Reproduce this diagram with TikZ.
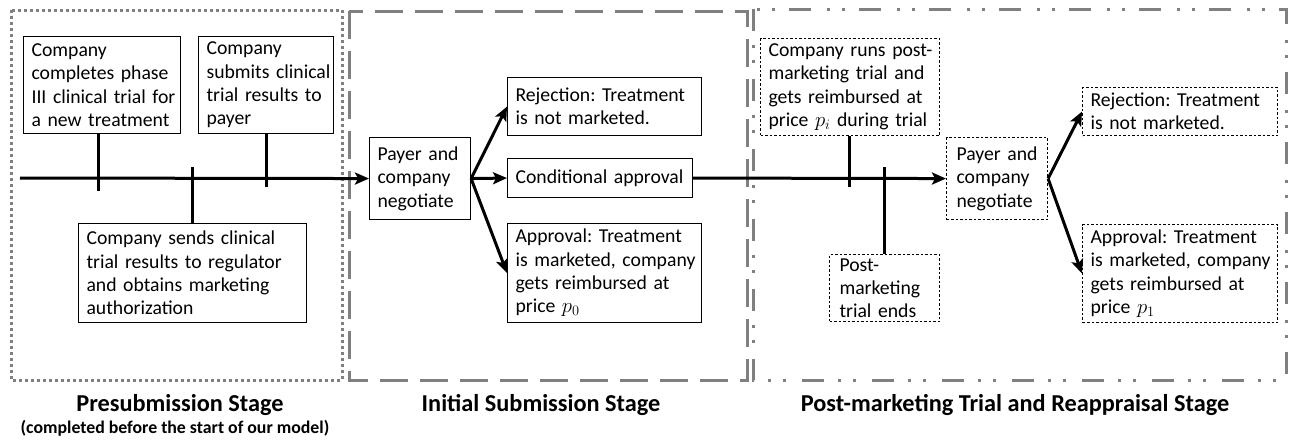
\documentclass[tikz,border=0pt]{standalone}
\usepackage{fontspec}
\setmainfont{Carlito}
\usetikzlibrary{arrows.meta}
\definecolor{bordgray}{RGB}{128,128,128}
\newcommand{\bodyfnt}{\fontsize{19.7}{23.3}\selectfont\frenchspacing}
\newcommand{\titlefnt}{\fontsize{24.3}{28}\selectfont\bfseries}
\newcommand{\subfnt}{\fontsize{17.8}{21}\selectfont\bfseries}
\newcommand{\nb}[1]{\mbox{#1}}
\begin{document}
\begin{tikzpicture}[x=1pt,y=-1pt,
  box/.style={draw, line width=1.1pt, anchor=north west, inner xsep=8pt, inner ysep=0pt, align=left, font=\bodyfnt},
  dbox/.style={box, dash pattern=on 2.5pt off 2pt},
  tl/.style={line width=3pt},
  arr/.style={line width=3pt, -{Stealth[length=14pt,width=12pt,inset=3pt]}},
  frame/.style={draw=bordgray, line width=3pt},
  stagelbl/.style={anchor=base, font=\titlefnt, inner sep=0pt}
]
\useasboundingbox (0,0) rectangle (1289,445);

% stage frames
\draw[frame, dash pattern=on 3pt off 3pt] (11,10) rectangle (342,380);
\draw[frame, dash pattern=on 28pt off 12pt] (349,11) rectangle (747,380);
\draw[frame, dash pattern=on 22pt off 14pt on 3pt off 12pt on 3pt off 16pt] (753,9) rectangle (1286,380);

% boxes
\node[box, minimum width=157pt, minimum height=97pt, text width=141pt] (b1) at (23,36)
  {\nb{Company}\\\nb{completes phase}\\\nb{III clinical trial for}\\\nb{a new treatment}};
\node[box, minimum width=135pt, minimum height=97pt, text width=119pt] (b2) at (198,36)
  {\nb{Company}\\\nb{submits clinical}\\\nb{trial results to}\\\nb{payer}};
\node[box, minimum width=228pt, minimum height=99pt, text width=212pt] (b3) at (78,223)
  {\nb{Company sends clinical}\\\nb{trial results to regulator}\\\nb{and obtains marketing}\\\nb{authorization}};
\node[box, minimum width=101pt, minimum height=82pt, text width=85pt] (pay1) at (369,137)
  {\nb{Payer and}\\\nb{company}\\\nb{negotiate}};
\node[box, minimum width=194pt, minimum height=58pt, text width=178pt] (rej1) at (507,77)
  {\nb{Rejection: Treatment}\\\nb{is not marketed.}};
\node[box, minimum width=185pt, minimum height=39pt, text width=169pt] (cond) at (507,158)
  {\nb{Conditional approval}};
\node[box, minimum width=194pt, minimum height=99pt, text width=178pt] (app1) at (507,223)
  {\nb{Approval: Treatment}\\\nb{is marketed, company}\\\nb{gets reimbursed at}\\\nb{price $p_0$}};
\node[dbox, minimum width=179pt, minimum height=97pt, text width=163pt] (run) at (760,38)
  {\nb{Company runs post-}\\\nb{marketing trial and}\\\nb{gets reimbursed at}\\\nb{price $p_i$ during trial}};
\node[dbox, inner xsep=10pt, minimum width=110pt, minimum height=67pt, text width=90pt] (end) at (829,254)
  {\nb{Post-}\\\nb{marketing}\\\nb{trial ends}};
\node[dbox, inner xsep=10pt, minimum width=101pt, minimum height=82pt, text width=81pt] (pay2) at (946,137)
  {\nb{Payer and}\\\nb{company}\\\nb{negotiate}};
\node[dbox, minimum width=195pt, minimum height=48pt, text width=179pt] (rej2) at (1082,87)
  {\nb{Rejection: Treatment}\\\nb{is not marketed.}};
\node[dbox, minimum width=195pt, minimum height=98pt, text width=179pt] (app2) at (1082,224)
  {\nb{Approval: Treatment}\\\nb{is marketed, company}\\\nb{gets reimbursed at}\\\nb{price $p_1$}};

% timeline
\coordinate (t0) at (20,178);
\draw[arr] (t0) -- (pay1.west);
\coordinate (k1) at (98,191);
\coordinate (k2) at (192,167);
\coordinate (k3) at (266,187);
\coordinate (k4) at (849,187);
\coordinate (k5) at (884,167);
\draw[tl] (k1) -- (k1 |- b1.south);
\draw[tl] (k2) -- (k2 |- b3.north);
\draw[tl] (k3) -- (k3 |- b2.south);
\draw[tl] (k4) -- (k4 |- run.south);
\draw[tl] (k5) -- (k5 |- end.north);

% forks
\draw[arr] (pay1.east) -- (rej1.west);
\draw[arr] (pay1.east) -- (cond.west);
\draw[arr] (pay1.east) -- (app1.west);
\draw[arr] (cond.east) -- (pay2.west);
\draw[arr] (pay2.east) -- (rej2.west);
\draw[arr] (pay2.east) -- (app2.west);

% stage labels
\node[stagelbl] (s1) at (180,411) {Presubmission Stage};
\node[anchor=base, font=\subfnt, inner sep=0pt] (s1b) at (175,433) {(completed before the start of our model)};
\node[stagelbl] (s2) at (541,411) {Initial Submission Stage};
\node[stagelbl] (s3) at (1015,411) {Post-marketing Trial and Reappraisal Stage};
\end{tikzpicture}
\end{document}
